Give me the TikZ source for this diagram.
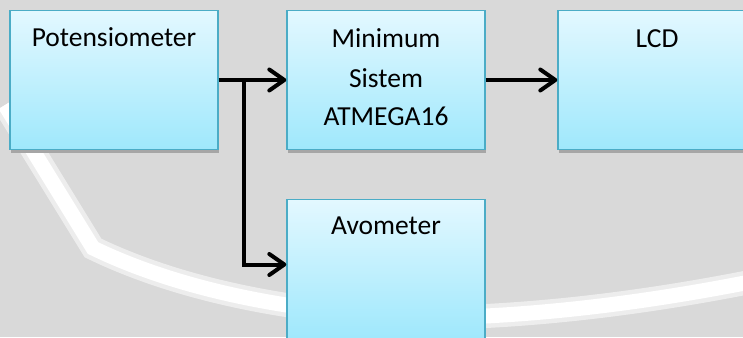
\documentclass[tikz,border=0pt]{standalone}
\usepackage{fontspec}
\setmainfont{Carlito}
\usetikzlibrary{arrows.meta,shadows}
\definecolor{bg}{HTML}{D9D9D9}
\definecolor{bord}{HTML}{4BACC6}
\definecolor{ftop}{HTML}{E3F8FF}
\definecolor{fbot}{HTML}{9FE8FC}
\tikzset{
  blk/.style={draw=bord, line width=1.4pt, top color=ftop, bottom color=fbot,
    minimum width=198pt, minimum height=139pt, inner sep=0pt,
    drop shadow={shadow xshift=1pt, shadow yshift=-3pt, fill=black!35, opacity=1}},
  lbl/.style={anchor=base, inner sep=0pt, font=\fontsize{27.5}{32}\selectfont},
  arr/.style={line width=4pt, -{Straight Barb[length=15pt,width=21pt,line cap=round,line join=round]}},
  ln/.style={line width=4pt}
}
\begin{document}
\begin{tikzpicture}[x=1pt,y=-1pt]
\useasboundingbox (0,0) rectangle (743,337);
\clip (0,0) rectangle (743,337);
\fill[bg] (0,0) rectangle (743,337);
% watermark band
\draw[black!7, line width=24pt] (5,105) -- (93,248) .. controls (200,300) and (350,322) .. (486,316) .. controls (600,310) and (700,292) .. (760,280);
\draw[white, line width=15pt] (5,105) -- (93,248) .. controls (200,300) and (350,322) .. (486,316) .. controls (600,310) and (700,292) .. (760,280);
% boxes
\node[blk, minimum width=208pt] (pot) at (114,80) {};
\node[blk] (min) at (386,80) {};
\node[blk] (lcd) at (657,80) {};
\node[blk] (avo) at (386,269) {};
% labels
\node[lbl] (tpot) at (114,47) {Potensiometer};
\node[lbl] (tmin1) at (386,48) {Minimum};
\node[lbl] (tmin2) at (386,87) {Sistem};
\node[lbl] (tmin3) at (386,125) {ATMEGA16};
\node[lbl] (tlcd) at (657,48) {LCD};
\node[lbl] (tavo) at (386,234) {Avometer};
% connectors
\coordinate (j) at (244,80);
\draw[arr] (pot.east) -- (min.west);
\draw[arr] (min.east) -- (lcd.west);
\draw[arr, line join=miter] (j) |- ([yshift=4.5pt]avo.west);
\end{tikzpicture}
\end{document}
